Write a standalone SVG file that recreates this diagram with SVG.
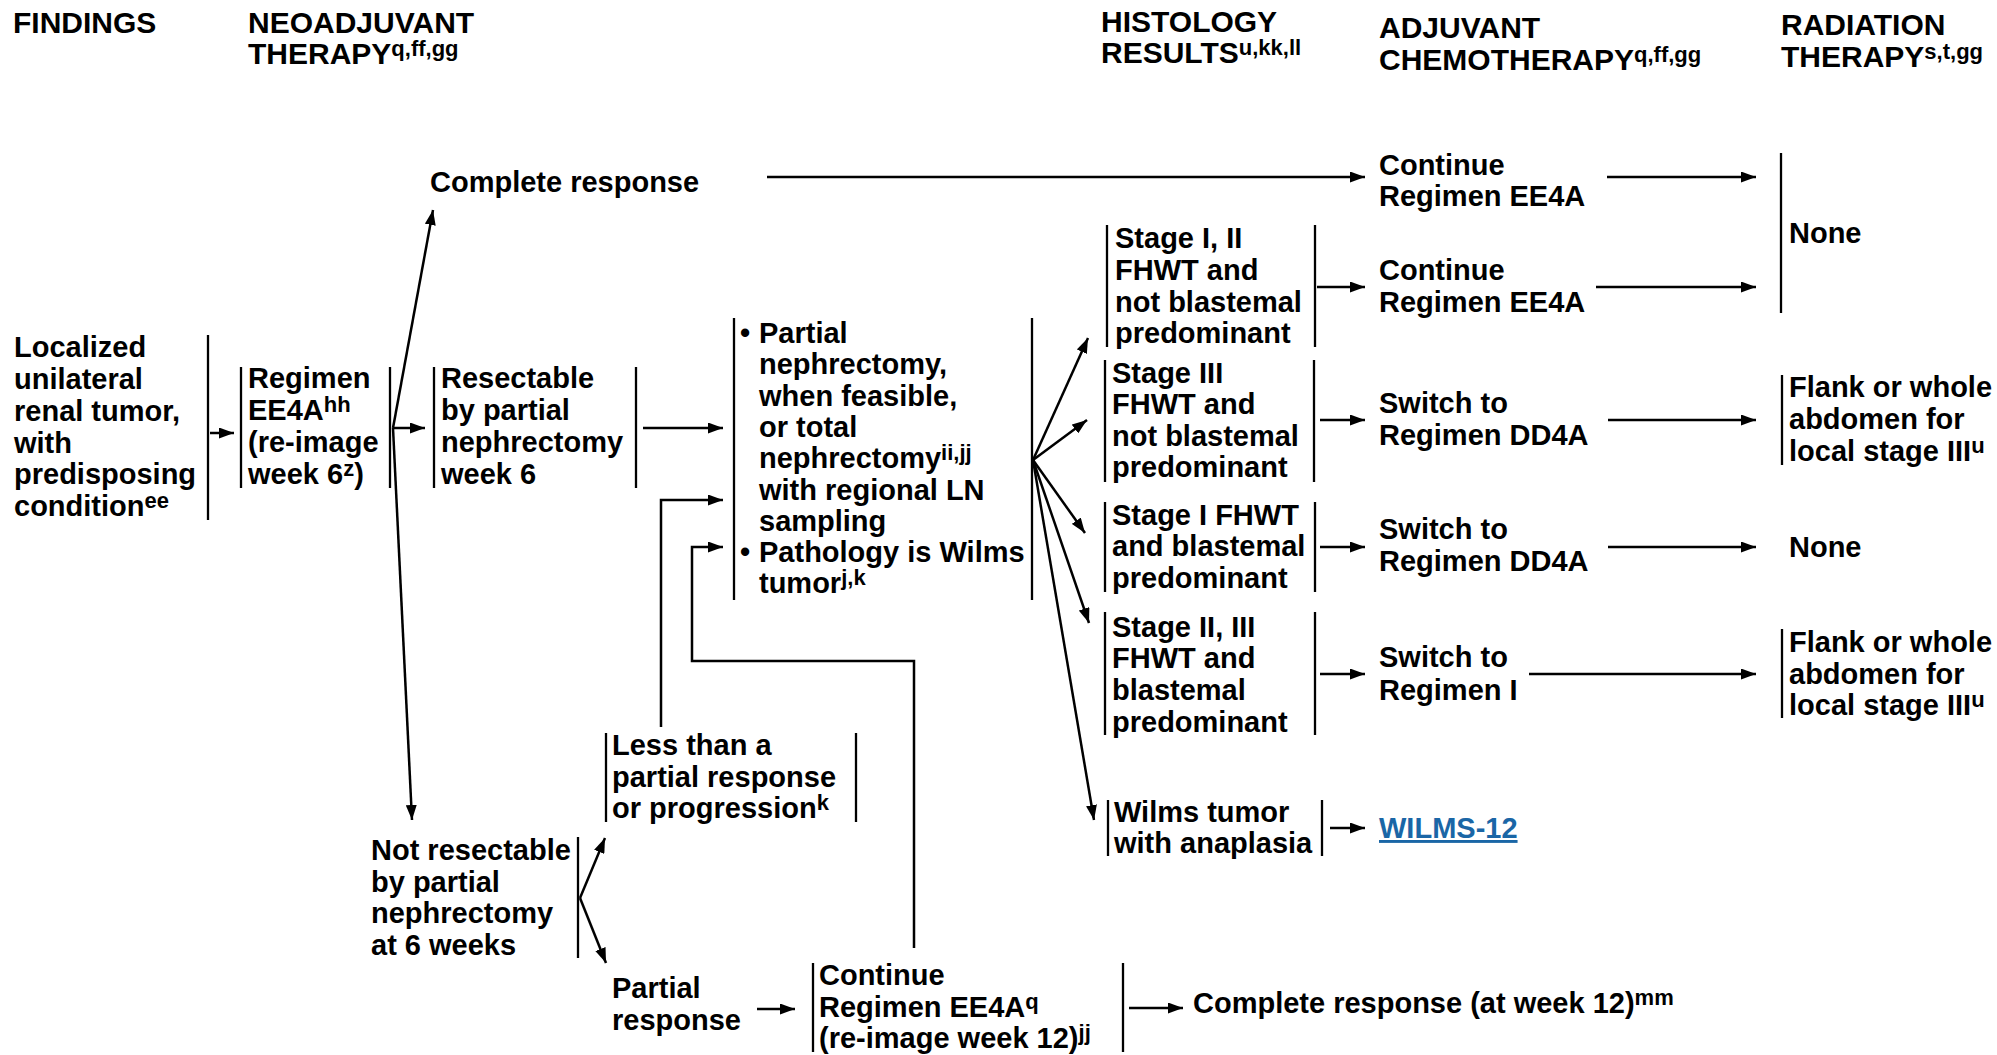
<svg xmlns="http://www.w3.org/2000/svg" width="1997" height="1055" viewBox="0 0 1997 1055">
  <style>
    text { font-family: "Liberation Sans", Arial, sans-serif; font-weight: bold; fill: #000; font-size: 29px; }
    .h { font-size: 30px; }
    .sup { font-size: 22px; }
    .bar { stroke: #000; stroke-width: 2.3; fill: none; }
    .con { stroke: #000; stroke-width: 2.5; fill: none; }
    .arr { marker-end: url(#ah); }
    .link { fill: #1a66a6; text-decoration: underline; }
  </style>
  <defs>
    <marker id="ah" markerUnits="userSpaceOnUse" markerWidth="15" markerHeight="11" refX="15" refY="5.5" orient="auto">
      <path d="M0,0 L15,5.5 L0,11 z" fill="#000"/>
    </marker>
  </defs>

  <!-- column headings -->
  <g id="headers">
    <text class="h" x="13" y="33">FINDINGS</text>
    <text class="h" x="248" y="33">NEOADJUVANT</text>
    <text class="h" x="248" y="64">THERAPY<tspan class="sup" dy="-8">q,ff,gg</tspan></text>
    <text class="h" x="1101" y="32">HISTOLOGY</text>
    <text class="h" x="1101" y="63">RESULTS<tspan class="sup" dy="-8">u,kk,ll</tspan></text>
    <text class="h" x="1379" y="38">ADJUVANT</text>
    <text class="h" x="1379" y="70">CHEMOTHERAPY<tspan class="sup" dy="-8">q,ff,gg</tspan></text>
    <text class="h" x="1781" y="35">RADIATION</text>
    <text class="h" x="1781" y="67">THERAPY<tspan class="sup" dy="-8">s,t,gg</tspan></text>
  </g>

  <!-- findings -->
  <g id="localized">
    <text x="14" y="357">Localized</text>
    <text x="14" y="389">unilateral</text>
    <text x="14" y="421">renal tumor,</text>
    <text x="14" y="453">with</text>
    <text x="14" y="484">predisposing</text>
    <text x="14" y="516">condition<tspan class="sup" dy="-8">ee</tspan></text>
    <line class="bar" x1="208" y1="335" x2="208" y2="520"/>
  </g>

  <!-- neoadjuvant therapy -->
  <g id="regimen-ee4a">
    <line class="bar" x1="241" y1="367" x2="241" y2="488"/>
    <text x="248" y="388">Regimen</text>
    <text x="248" y="420">EE4A<tspan class="sup" dy="-8">hh</tspan></text>
    <text x="248" y="452">(re-image</text>
    <text x="248" y="484">week 6<tspan class="sup" dy="-8">z</tspan><tspan dy="8">)</tspan></text>
    <line class="bar" x1="390" y1="367" x2="390" y2="488"/>
  </g>

  <g id="complete-response">
    <text x="430" y="192">Complete response</text>
  </g>

  <g id="resectable">
    <line class="bar" x1="434" y1="367" x2="434" y2="488"/>
    <text x="441" y="388">Resectable</text>
    <text x="441" y="420">by partial</text>
    <text x="441" y="452">nephrectomy</text>
    <text x="441" y="484">week 6</text>
    <line class="bar" x1="636" y1="367" x2="636" y2="488"/>
  </g>

  <g id="not-resectable">
    <text x="371" y="860">Not resectable</text>
    <text x="371" y="892">by partial</text>
    <text x="371" y="923">nephrectomy</text>
    <text x="371" y="955">at 6 weeks</text>
    <line class="bar" x1="578" y1="837" x2="578" y2="958"/>
  </g>

  <g id="less-than-partial">
    <line class="bar" x1="606" y1="733" x2="606" y2="822"/>
    <text x="612" y="755">Less than a</text>
    <text x="612" y="787">partial response</text>
    <text x="612" y="818">or progression<tspan class="sup" dy="-8">k</tspan></text>
    <line class="bar" x1="856" y1="733" x2="856" y2="822"/>
  </g>

  <g id="partial-response">
    <text x="612" y="998">Partial</text>
    <text x="612" y="1030">response</text>
  </g>

  <g id="continue-week12">
    <line class="bar" x1="813" y1="963" x2="813" y2="1052"/>
    <text x="819" y="985">Continue</text>
    <text x="819" y="1017">Regimen EE4A<tspan class="sup" dy="-8">q</tspan></text>
    <text x="819" y="1048">(re-image week 12)<tspan class="sup" dy="-8">jj</tspan></text>
    <line class="bar" x1="1123" y1="963" x2="1123" y2="1052"/>
  </g>

  <g id="complete-week12">
    <text x="1193" y="1013">Complete response (at week 12)<tspan class="sup" dy="-8">mm</tspan></text>
  </g>

  <!-- surgery -->
  <g id="nephrectomy">
    <line class="bar" x1="734" y1="318" x2="734" y2="600"/>
    <text x="740" y="343">•</text>
    <text x="759" y="343">Partial</text>
    <text x="759" y="374">nephrectomy,</text>
    <text x="759" y="406">when feasible,</text>
    <text x="759" y="437">or total</text>
    <text x="759" y="468">nephrectomy<tspan class="sup" dy="-8">ii,jj</tspan></text>
    <text x="759" y="500">with regional LN</text>
    <text x="759" y="531">sampling</text>
    <text x="740" y="562">•</text>
    <text x="759" y="562">Pathology is Wilms</text>
    <text x="759" y="593">tumor<tspan class="sup" dy="-8">j,k</tspan></text>
    <line class="bar" x1="1032" y1="318" x2="1032" y2="600"/>
  </g>

  <!-- histology results -->
  <g id="stage-1-2-fhwt">
    <line class="bar" x1="1107" y1="225" x2="1107" y2="347"/>
    <text x="1115" y="248">Stage I, II</text>
    <text x="1115" y="280">FHWT and</text>
    <text x="1115" y="312">not blastemal</text>
    <text x="1115" y="343">predominant</text>
    <line class="bar" x1="1315" y1="225" x2="1315" y2="347"/>
  </g>

  <g id="stage-3-fhwt">
    <line class="bar" x1="1105" y1="360" x2="1105" y2="482"/>
    <text x="1112" y="383">Stage III</text>
    <text x="1112" y="414">FHWT and</text>
    <text x="1112" y="446">not blastemal</text>
    <text x="1112" y="477">predominant</text>
    <line class="bar" x1="1314" y1="360" x2="1314" y2="482"/>
  </g>

  <g id="stage-1-blastemal">
    <line class="bar" x1="1105" y1="502" x2="1105" y2="592"/>
    <text x="1112" y="525">Stage I FHWT</text>
    <text x="1112" y="556">and blastemal</text>
    <text x="1112" y="588">predominant</text>
    <line class="bar" x1="1315" y1="502" x2="1315" y2="592"/>
  </g>

  <g id="stage-2-3-blastemal">
    <line class="bar" x1="1105" y1="612" x2="1105" y2="735"/>
    <text x="1112" y="637">Stage II, III</text>
    <text x="1112" y="668">FHWT and</text>
    <text x="1112" y="700">blastemal</text>
    <text x="1112" y="732">predominant</text>
    <line class="bar" x1="1315" y1="612" x2="1315" y2="735"/>
  </g>

  <g id="anaplasia">
    <line class="bar" x1="1108" y1="800" x2="1108" y2="856"/>
    <text x="1114" y="822">Wilms tumor</text>
    <text x="1114" y="853">with anaplasia</text>
    <line class="bar" x1="1322" y1="800" x2="1322" y2="856"/>
  </g>

  <!-- adjuvant chemotherapy -->
  <g id="continue-ee4a-1">
    <text x="1379" y="175">Continue</text>
    <text x="1379" y="206">Regimen EE4A</text>
  </g>
  <g id="continue-ee4a-2">
    <text x="1379" y="280">Continue</text>
    <text x="1379" y="312">Regimen EE4A</text>
  </g>
  <g id="switch-dd4a-1">
    <text x="1379" y="413">Switch to</text>
    <text x="1379" y="445">Regimen DD4A</text>
  </g>
  <g id="switch-dd4a-2">
    <text x="1379" y="539">Switch to</text>
    <text x="1379" y="571">Regimen DD4A</text>
  </g>
  <g id="switch-i">
    <text x="1379" y="667">Switch to</text>
    <text x="1379" y="700">Regimen I</text>
  </g>
  <g id="wilms-12">
    <text class="link" x="1379" y="838">WILMS-12</text>
  </g>

  <!-- radiation therapy -->
  <g id="rt-none-1">
    <line class="bar" x1="1781" y1="153" x2="1781" y2="313"/>
    <text x="1789" y="243">None</text>
  </g>
  <g id="rt-flank-1">
    <line class="bar" x1="1782" y1="375" x2="1782" y2="465"/>
    <text x="1789" y="397">Flank or whole</text>
    <text x="1789" y="429">abdomen for</text>
    <text x="1789" y="461">local stage III<tspan class="sup" dy="-8">u</tspan></text>
  </g>
  <g id="rt-none-2">
    <text x="1789" y="557">None</text>
  </g>
  <g id="rt-flank-2">
    <line class="bar" x1="1782" y1="629" x2="1782" y2="718"/>
    <text x="1789" y="652">Flank or whole</text>
    <text x="1789" y="684">abdomen for</text>
    <text x="1789" y="715">local stage III<tspan class="sup" dy="-8">u</tspan></text>
  </g>

  <!-- connectors -->
  <g id="connectors">
    <line class="con arr" x1="210" y1="433" x2="234" y2="433"/>
    <line class="con arr" x1="393" y1="428" x2="425" y2="428"/>
    <line class="con arr" x1="393" y1="428" x2="433" y2="210"/>
    <line class="con arr" x1="393" y1="428" x2="412" y2="820"/>
    <line class="con arr" x1="643" y1="428" x2="723" y2="428"/>
    <polyline class="con arr" points="661,727 661,500 723,500"/>
    <polyline class="con arr" points="914,948 914,661 692,661 692,547 723,547"/>
    <line class="con arr" x1="767" y1="177" x2="1365" y2="177"/>
    <line class="con arr" x1="1607" y1="177" x2="1756" y2="177"/>
    <line class="con arr" x1="1033" y1="460" x2="1088" y2="338"/>
    <line class="con arr" x1="1033" y1="460" x2="1087" y2="420"/>
    <line class="con arr" x1="1033" y1="460" x2="1085" y2="533"/>
    <line class="con arr" x1="1033" y1="460" x2="1089" y2="623"/>
    <line class="con arr" x1="1033" y1="460" x2="1094" y2="820"/>
    <line class="con arr" x1="1317" y1="287" x2="1365" y2="287"/>
    <line class="con arr" x1="1596" y1="287" x2="1756" y2="287"/>
    <line class="con arr" x1="1320" y1="420" x2="1365" y2="420"/>
    <line class="con arr" x1="1608" y1="420" x2="1756" y2="420"/>
    <line class="con arr" x1="1320" y1="547" x2="1365" y2="547"/>
    <line class="con arr" x1="1608" y1="547" x2="1756" y2="547"/>
    <line class="con arr" x1="1320" y1="674" x2="1365" y2="674"/>
    <line class="con arr" x1="1529" y1="674" x2="1756" y2="674"/>
    <line class="con arr" x1="1330" y1="828" x2="1365" y2="828"/>
    <line class="con arr" x1="580" y1="898" x2="605" y2="838"/>
    <line class="con arr" x1="580" y1="898" x2="606" y2="963"/>
    <line class="con arr" x1="757" y1="1009" x2="795" y2="1009"/>
    <line class="con arr" x1="1129" y1="1008" x2="1183" y2="1008"/>
  </g>
</svg>
